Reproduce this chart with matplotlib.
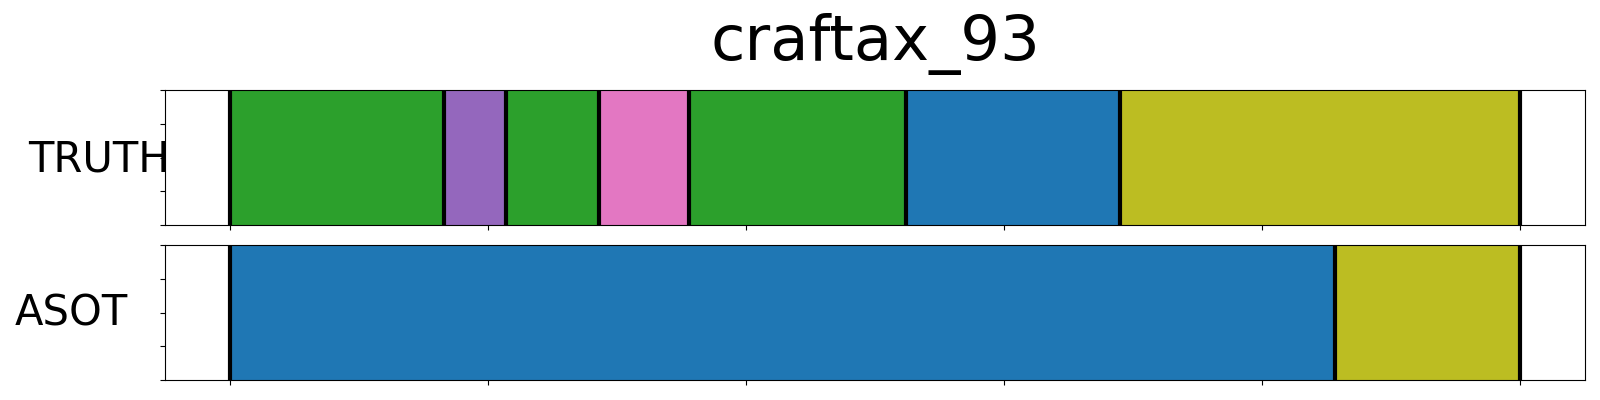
import matplotlib
matplotlib.use("Agg")
import matplotlib.pyplot as plt
import numpy as np

# segment data (frame boundaries + action colours)
title = "craftax_93"
row_names = ["TRUTH", "ASOT"]
truth_bounds = [0, 83, 107, 143, 178, 262, 345, 500]
truth_colors = ["#2ca02c", "#9467bd", "#2ca02c", "#e377c2", "#2ca02c", "#1f77b4", "#bcbd22"]
asot_bounds = [0, 428, 500]
asot_colors = ["#1f77b4", "#bcbd22"]

fig = plt.figure(figsize=(16, 4), dpi=100)
ax1 = fig.add_axes([0.1034, 0.4375, 0.8872, 0.3375])
ax2 = fig.add_axes([0.1034, 0.05, 0.8872, 0.3375])

def draw_row(ax, bounds, colors):
    for i, c in enumerate(colors):
        ax.axvspan(bounds[i], bounds[i + 1], ymin=0, ymax=1, facecolor=c,
                   edgecolor=c, linewidth=0.8)
    for b in bounds:
        ax.axvline(b, color="black", linewidth=3)
    ax.set_xlim(-25, 525)
    ax.set_ylim(0, 1)
    ax.set_xticks(np.arange(0, 501, 100))
    ax.set_yticks([0, 0.25, 0.5, 0.75, 1.0])
    ax.set_xticklabels([])
    ax.set_yticklabels([])

draw_row(ax1, truth_bounds, truth_colors)
draw_row(ax2, asot_bounds, asot_colors)

fig.text(28 / 1600, 1 - 159 / 400, row_names[0], fontsize=30, ha="left", va="center")
fig.text(15 / 1600, 1 - 313 / 400, row_names[1], fontsize=30, ha="left", va="center")
ax1.set_zorder(1)

fig.text(875 / 1600, 1 - 44 / 400, title, fontsize=45, ha="center", va="center")

fig.savefig("out.png", dpi=100)
